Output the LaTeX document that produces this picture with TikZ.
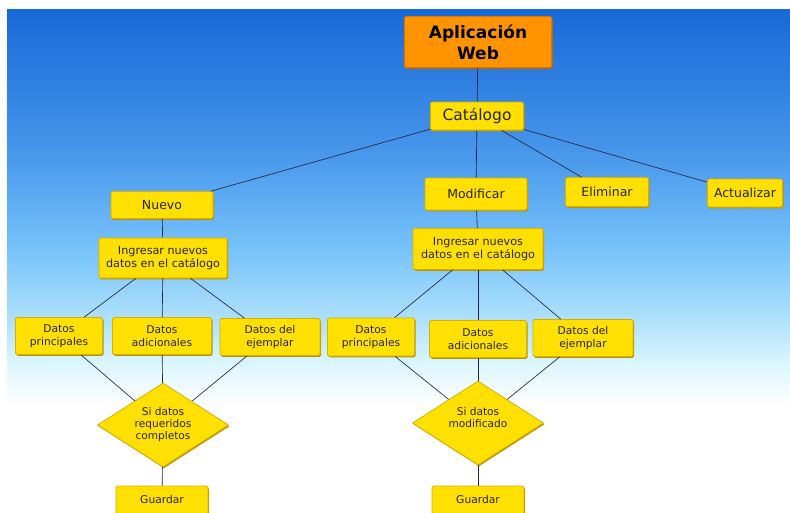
\documentclass[tikz,border=0pt]{standalone}
\usepackage{fontspec}
\setmainfont{DejaVu Sans}
\usepackage{xcolor}
\usepackage{tikz}
\usetikzlibrary{shapes,positioning,shadows}

\definecolor{skyA}{RGB}{24,104,215}
\definecolor{skyB}{RGB}{70,150,235}
\definecolor{skyC}{RGB}{120,195,250}
\definecolor{skyD}{RGB}{175,225,251}
\definecolor{skyE}{RGB}{218,246,254}
\definecolor{boxfill}{RGB}{255,224,0}
\definecolor{boxline}{RGB}{214,178,0}
\definecolor{boxshade}{RGB}{186,148,0}
\definecolor{webfill}{RGB}{255,148,0}
\definecolor{webline}{RGB}{224,118,0}
\definecolor{webshade}{RGB}{190,96,0}
\definecolor{linkcol}{RGB}{36,36,70}

\begin{document}
\begin{tikzpicture}[x=1pt,y=-1pt,
    base/.style={draw=boxline, line width=0.8pt, fill=boxfill, rounded corners=1.5pt,
        inner sep=1pt, align=center, text=black!85,
        drop shadow={fill=boxshade, shadow xshift=1pt, shadow yshift=-1.3pt, opacity=1}},
    box/.style 2 args={base, minimum width=#1pt, minimum height=#2pt},
    webbox/.style={box={147}{51}, draw=webline, fill=webfill, text=black,
        drop shadow={fill=webshade, shadow xshift=1pt, shadow yshift=-1.3pt, opacity=1},
        font=\fontsize{17}{21}\selectfont\bfseries},
    catbox/.style={box={93}{28}, font=\fontsize{15.5}{18}\selectfont},
    optbox/.style={font=\fontsize{12.5}{15}\selectfont},
    ingbox/.style={font=\fontsize{11.2}{13.5}\selectfont},
    datbox/.style={font=\fontsize{10.7}{13}\selectfont},
    decision/.style={base, diamond, rounded corners=0pt, aspect=1.56, inner sep=0pt,
        minimum width=131pt, minimum height=84pt, font=\fontsize{10.6}{12}\selectfont},
    link/.style={draw=linkcol, line width=0.65pt}]

    % background
    \useasboundingbox (0,0) rectangle (790,512);
    \fill[white] (0,0) rectangle (790,512);
    \shade[top color=skyA, bottom color=skyB] (7,9) rectangle (790,150.5);
    \shade[top color=skyB, bottom color=skyC] (7,150) rectangle (790,250.5);
    \shade[top color=skyC, bottom color=skyD] (7,250) rectangle (790,320.5);
    \shade[top color=skyD, bottom color=skyE] (7,320) rectangle (790,362.5);
    \shade[top color=skyE, bottom color=white] (7,362) rectangle (790,405);

    % top
    \node[webbox] (web) at (478,42) {Aplicación\\Web};
    \node[catbox] (cat) at (477,116) {Catálogo};

    \node[box={102}{27}, optbox] (nuevo) at (162,205) {Nuevo};
    \node[box={102}{32}, optbox] (modif) at (476,194) {Modificar};
    \node[box={83}{29}, optbox] (elim) at (607,192) {Eliminar};
    \node[box={75}{28}, optbox] (actu) at (745,193) {Actualizar};

    % left branch
    \node[box={128}{40}, ingbox] (ingL) at (163,258) {Ingresar nuevos\\datos en el catálogo};
    \node[box={87}{37}, datbox] (dpL) at (59,336) {Datos\\principales};
    \node[box={99}{37}, datbox] (daL) at (162,336) {Datos\\adicionales};
    \node[box={100}{37}, datbox] (deL) at (270,337) {Datos del\\ejemplar};
    \node[decision] (decL) at (163,425) {Si datos\\requeridos\\completos};
    \node[box={92}{28}, datbox] (guaL) at (162,500) {Guardar};

    % right branch
    \node[box={130}{41}, ingbox] (ingR) at (478,249) {Ingresar nuevos\\datos en el catálogo};
    \node[box={87}{38}, datbox] (dpR) at (371,337) {Datos\\principales};
    \node[box={97}{37}, datbox] (daR) at (478,339) {Datos\\adicionales};
    \node[box={100}{37}, datbox] (deR) at (583,338) {Datos del\\ejemplar};
    \node[decision] (decR) at (478,423) {Si datos\\modificado\\[0pt]};
    \node[box={92}{28}, datbox] (guaR) at (478,500) {Guardar};

    % connectors
    \draw[link] (web) -- (cat);
    \foreach \n in {nuevo,modif,elim,actu}
        \draw[link] (cat) -- (\n);
    \draw[link] (nuevo) -- (ingL);
    \draw[link] (modif) -- (ingR);
    \foreach \s in {L,R} {
        \foreach \d in {dp,da,de} {
            \draw[link] (ing\s) -- (\d\s);
            \draw[link] (\d\s) -- (dec\s);
        }
        \draw[link] (dec\s) -- (gua\s);
    }
\end{tikzpicture}
\end{document}
